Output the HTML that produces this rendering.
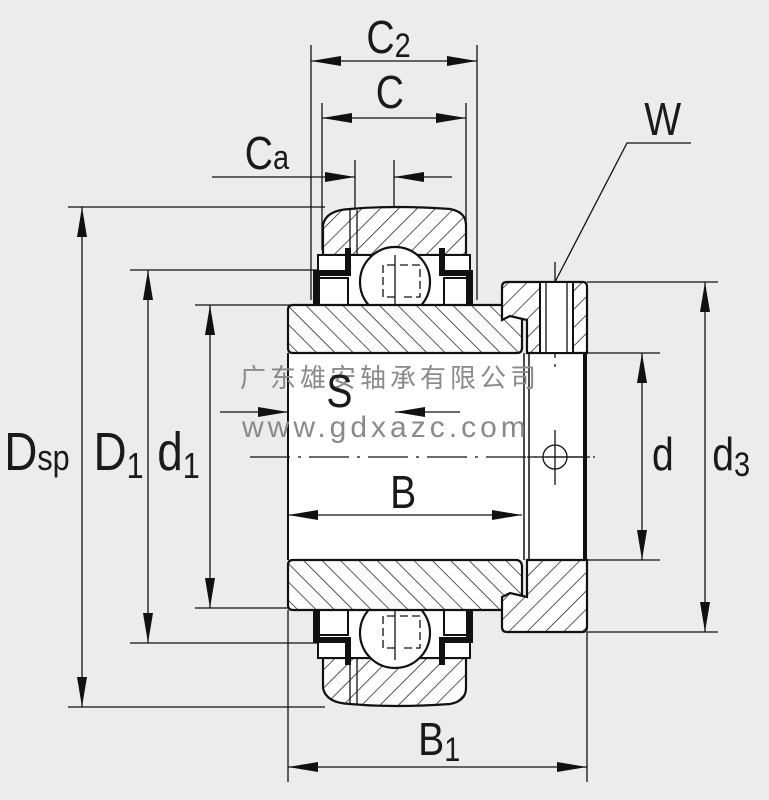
<!DOCTYPE html>
<html><head><meta charset="utf-8"><style>
html,body{margin:0;padding:0;background:#ececec;}
svg{display:block}
text{font-family:"Liberation Sans Narrow","Liberation Sans",sans-serif;fill:#1a1a1a}
</style></head><body>
<svg width="769" height="800" viewBox="0 0 769 800" xmlns="http://www.w3.org/2000/svg">
<defs>
<pattern id="hf" patternUnits="userSpaceOnUse" width="13" height="13" patternTransform="rotate(45)">
<rect width="13" height="13" fill="#fff"/><line x1="0" y1="0" x2="0" y2="13" stroke="#111" stroke-width="1.4"/></pattern>
<pattern id="hb" patternUnits="userSpaceOnUse" width="13" height="13" patternTransform="rotate(-45)">
<rect width="13" height="13" fill="#fff"/><line x1="0" y1="0" x2="0" y2="13" stroke="#111" stroke-width="1.4"/></pattern>
<marker id="a" markerWidth="30" markerHeight="12" refX="30" refY="6" orient="auto" markerUnits="userSpaceOnUse"><path d="M0,1 L30,6 L0,11z" fill="#111"/></marker>
<marker id="as" markerWidth="30" markerHeight="12" refX="0" refY="6" orient="auto" markerUnits="userSpaceOnUse"><path d="M30,1 L0,6 L30,11z" fill="#111"/></marker>
</defs>
<rect width="769" height="800" fill="#ececec"/>
<rect x="288" y="353" width="299" height="207" fill="#fff"/>
<g stroke="#111" fill="none" stroke-width="1.3">
<line x1="311" y1="45" x2="311" y2="300"/><line x1="477" y1="45" x2="477" y2="300"/>
<line x1="322" y1="103" x2="322" y2="250"/><line x1="466" y1="103" x2="466" y2="240"/>
<line x1="355" y1="160" x2="355" y2="210"/><line x1="394" y1="160" x2="394" y2="210"/>
<line x1="68" y1="207" x2="325" y2="207"/><line x1="68" y1="707" x2="325" y2="707"/>
<line x1="130" y1="270" x2="320" y2="270"/><line x1="130" y1="643" x2="320" y2="643"/>
<line x1="195" y1="305" x2="290" y2="305"/><line x1="195" y1="608" x2="290" y2="608"/>
<line x1="587" y1="353" x2="660" y2="353"/><line x1="587" y1="560" x2="660" y2="560"/>
<line x1="587" y1="282" x2="718" y2="282"/><line x1="587" y1="632" x2="718" y2="632"/>
<line x1="288" y1="610" x2="288" y2="782"/><line x1="587" y1="632" x2="587" y2="782"/>
<line x1="311" y1="61" x2="477" y2="61" marker-start="url(#as)" marker-end="url(#a)"/>
<line x1="322" y1="118" x2="466" y2="118" marker-start="url(#as)" marker-end="url(#a)"/>
<line x1="212" y1="177" x2="355" y2="177" marker-end="url(#a)"/>
<line x1="452" y1="177" x2="394" y2="177" marker-end="url(#a)"/>
<line x1="82" y1="207" x2="82" y2="707" marker-start="url(#as)" marker-end="url(#a)"/>
<line x1="148" y1="270" x2="148" y2="643" marker-start="url(#as)" marker-end="url(#a)"/>
<line x1="210" y1="305" x2="210" y2="608" marker-start="url(#as)" marker-end="url(#a)"/>
<line x1="642" y1="353" x2="642" y2="560" marker-start="url(#as)" marker-end="url(#a)"/>
<line x1="705" y1="282" x2="705" y2="632" marker-start="url(#as)" marker-end="url(#a)"/>
<line x1="288" y1="515" x2="522" y2="515" marker-start="url(#as)" marker-end="url(#a)"/>
<line x1="288" y1="767" x2="587" y2="767" marker-start="url(#as)" marker-end="url(#a)"/>
<line x1="220" y1="412" x2="288" y2="412" marker-end="url(#a)"/>
<line x1="460" y1="412" x2="395" y2="412" marker-end="url(#a)"/>
<polyline points="555,282 627,143 691,143"/>
<line x1="250" y1="457" x2="595" y2="457" stroke-dasharray="40,8,3,8"/>
<line x1="395" y1="230" x2="395" y2="340"/>
<line x1="395" y1="590" x2="395" y2="690"/>
<line x1="555" y1="262" x2="555" y2="370" stroke-dasharray="22,6,3,6"/>
<line x1="555" y1="430" x2="555" y2="485"/>
<line x1="527" y1="457" x2="590" y2="457"/>
</g>
<circle cx="555" cy="457" r="12" fill="none" stroke="#111" stroke-width="1.3"/>
<path d="M323,255 L323,225 Q326,210 350,209 Q395,205 450,209 Q466,212 466,225 L466,255 Z" fill="url(#hf)" stroke="#111" stroke-width="2.2"/>
<line x1="350" y1="210" x2="350" y2="255" stroke="#111" stroke-width="1.3"/>
<line x1="357" y1="210" x2="357" y2="255" stroke="#111" stroke-width="1.3"/>
<path d="M323,658 L323,688 Q326,703 350,704 Q395,708 450,704 Q466,701 466,688 L466,658 Z" fill="url(#hf)" stroke="#111" stroke-width="2.2"/>
<line x1="350" y1="658" x2="350" y2="704" stroke="#111" stroke-width="1.3"/>
<line x1="357" y1="658" x2="357" y2="704" stroke="#111" stroke-width="1.3"/>
<g stroke="#111" stroke-width="2" fill="#fff">
<rect x="318" y="255" width="152" height="50"/>
<rect x="318" y="278" width="30" height="27"/><rect x="444" y="278" width="26" height="27"/>
<rect x="318" y="608" width="152" height="50"/>
<rect x="318" y="608" width="30" height="27"/><rect x="444" y="608" width="26" height="27"/>
</g>
<g fill="#111">
<rect x="313" y="270" width="7" height="35"/><rect x="313" y="270" width="38" height="6"/><rect x="345" y="248" width="6" height="28"/>
<rect x="466" y="270" width="7" height="35"/><rect x="439" y="270" width="34" height="6"/><rect x="439" y="248" width="6" height="28"/>
<rect x="313" y="608" width="7" height="35"/><rect x="313" y="637" width="38" height="6"/><rect x="345" y="637" width="6" height="28"/>
<rect x="466" y="608" width="7" height="35"/><rect x="439" y="637" width="34" height="6"/><rect x="439" y="637" width="6" height="28"/>
</g>
<circle cx="395" cy="282" r="35" fill="#fff" stroke="#111" stroke-width="2.2"/>
<circle cx="395" cy="633" r="35" fill="#fff" stroke="#111" stroke-width="2.2"/>
<g stroke="#111" stroke-width="1.3" fill="none" stroke-dasharray="8,4">
<path d="M395,265 h-12 v32 h12 M400,265 h20 v32 h-20"/>
<path d="M395,616 h-12 v32 h12 M400,616 h20 v32 h-20"/>
</g>
<g stroke="#111" stroke-width="1.3">
<line x1="395" y1="255" x2="395" y2="310"/><line x1="395" y1="605" x2="395" y2="660"/>
</g>
<path d="M293,305 L517,305 Q522,306 522,312 L522,348 Q522,353 517,353 L293,353 Q288,353 288,348 L288,310 Q288,305 293,305 Z" fill="url(#hb)" stroke="#111" stroke-width="2.2"/>
<path d="M293,560 L517,560 Q522,561 522,567 L522,605 Q522,610 517,610 L293,610 Q288,610 288,605 L288,565 Q288,560 293,560 Z" fill="url(#hb)" stroke="#111" stroke-width="2.2"/>
<path d="M507,282 L583,282 Q587,282 587,287 L587,353 L527,353 L527,320 L510,316 L502,320 L502,287 Q502,282 507,282 Z" fill="url(#hf)" stroke="#111" stroke-width="2.2"/>
<rect x="540" y="282" width="33" height="71" fill="#fff" stroke="#111" stroke-width="2"/>
<line x1="546" y1="282" x2="546" y2="353" stroke="#111" stroke-width="1.3"/>
<line x1="567" y1="282" x2="567" y2="353" stroke="#111" stroke-width="1.3"/>
<path d="M527,560 L587,560 L587,627 Q587,632 582,632 L507,632 Q502,632 502,627 L502,597 L510,593 L527,597 Z" fill="url(#hf)" stroke="#111" stroke-width="2.2"/>
<line x1="524" y1="353" x2="524" y2="560" stroke="#111" stroke-width="1.5"/>
<line x1="529" y1="353" x2="529" y2="560" stroke="#111" stroke-width="1.5"/>
<line x1="585" y1="353" x2="585" y2="560" stroke="#111" stroke-width="4"/>
<line x1="288" y1="353" x2="288" y2="560" stroke="#111" stroke-width="2"/>
<text x="240" y="387" font-size="26" style="fill:#8a8a8a;letter-spacing:4px;font-family:'Noto Sans CJK SC',sans-serif">广东雄安轴承有限公司</text>
<text x="242" y="437" font-size="30" style="fill:#8a8a8a;letter-spacing:4px;font-family:'Liberation Sans',sans-serif">www.gdxazc.com</text>
<g transform="scale(0.85,1)">
<text x="431" y="53" font-size="46">C<tspan font-size="34" dy="4">2</tspan></text>
<text x="442" y="108" font-size="46">C</text>
<text x="288" y="169" font-size="46">C<tspan font-size="34">a</tspan></text>
<text x="758" y="135" font-size="46">W</text>
<text x="5" y="470" font-size="54">D<tspan font-size="36">sp</tspan></text>
<text x="110" y="470" font-size="54">D<tspan font-size="36" dy="8">1</tspan></text>
<text x="185" y="470" font-size="54">d<tspan font-size="36" dy="8">1</tspan></text>
<text x="384" y="407" font-size="46">S</text>
<text x="459" y="508" font-size="46">B</text>
<text x="767" y="470" font-size="46">d</text>
<text x="838" y="470" font-size="46">d<tspan font-size="34" dy="6">3</tspan></text>
<text x="492" y="755" font-size="46">B<tspan font-size="34" dy="6">1</tspan></text>
</g>
</svg>
</body></html>
